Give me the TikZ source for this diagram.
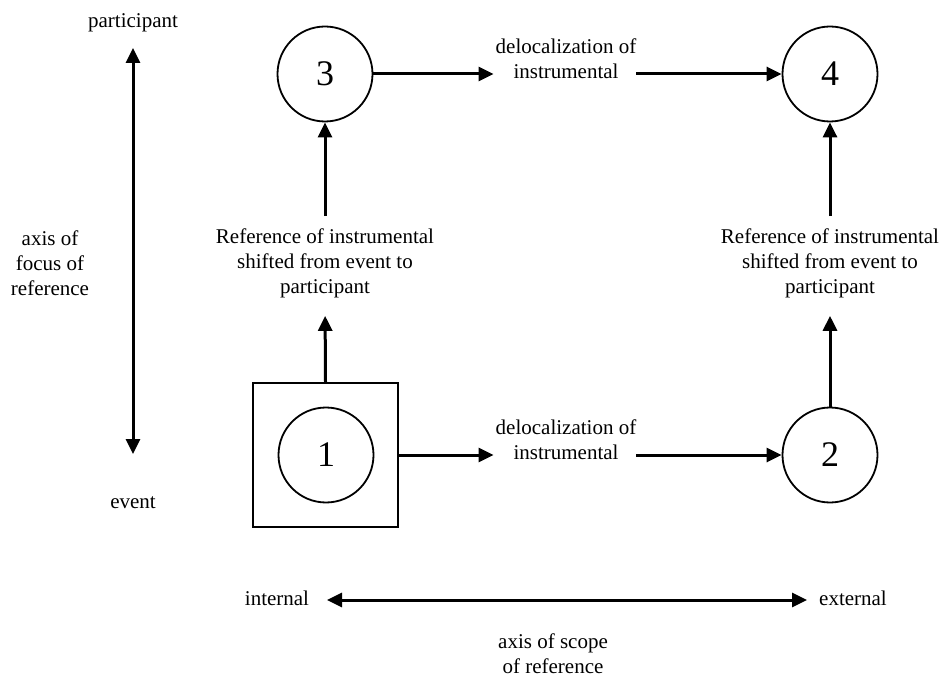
\documentclass[tikz,border=0pt]{standalone}
\usepackage{fontspec}
\setmainfont{Liberation Serif}
\usetikzlibrary{arrows.meta}
\begin{document}
\begin{tikzpicture}[x=1pt,y=-1pt,
  lbl/.style={align=center,font=\fontsize{21}{25}\selectfont,inner sep=0pt},
  circ/.style={circle,draw,line width=1.8pt,minimum size=95pt,inner sep=0pt,font=\fontsize{36}{40}\selectfont},
  boxnode/.style={draw,line width=2pt,minimum width=145pt,minimum height=144pt,inner sep=0pt},
  arr/.style={line width=3pt,-{Triangle[length=15pt,width=14pt]}},
  darr/.style={line width=3pt,{Triangle[length=15pt,width=14pt]}-{Triangle[length=15pt,width=14pt]}}]
\useasboundingbox (0,0) rectangle (943,679);

% main nodes
\node[boxnode] (sq) at (325.5,455) {};
\node[circ] (c1) at (326,455) {1};
\node[circ] (c2) at (830,455) {2};
\node[circ] (c3) at (325,74) {3};
\node[circ] (c4) at (830,74) {4};

% labels on connectors
\node[lbl] (dt) at (566,59) {delocalization of\\instrumental};
\node[lbl] (db) at (566,440) {delocalization of\\instrumental};
\node[lbl] (rl) at (325,263) {Reference of instrumental\\shifted from event to\\participant};
\node[lbl] (rr) at (830,263) {Reference of instrumental\\shifted from event to\\participant};

% connectors
\draw[arr,shorten >=2pt] (c3.east) -- (c3.east -| dt.west);
\draw[arr] (c3.east -| dt.east) -- (c4.west);
\draw[arr,shorten >=2pt] (sq.east |- c1) -- (c1 -| db.west);
\draw[arr] (c1 -| db.east) -- (c2.west);
\draw[arr,shorten >=18pt] (sq.north) -- (rl.south);
\draw[arr,shorten <=12pt] (rl.north) -- (c3.south);
\draw[arr,shorten >=18pt] (c2.north) -- (rr.south);
\draw[arr,shorten <=12pt] (rr.north) -- (c4.south);

% vertical axis
\node[lbl,anchor=base] (part) at (133,28) {participant};
\node[lbl,anchor=base] (ev) at (133,508) {event};
\node[lbl] (afr) at (50,263) {axis of\\focus of\\reference};
\coordinate (axT) at (133,48);
\coordinate (axB) at (133,454);
\draw[darr] (axT) -- (axB);

% horizontal axis
\node[lbl,anchor=base] (intl) at (277,605) {internal};
\node[lbl,anchor=base] (extl) at (853,605) {external};
\coordinate (hL) at (327,600);
\coordinate (hR) at (807,600);
\draw[darr] (hL) -- (hR);
\node[lbl] (asr) at (553,654) {axis of scope\\of reference};
\end{tikzpicture}
\end{document}
